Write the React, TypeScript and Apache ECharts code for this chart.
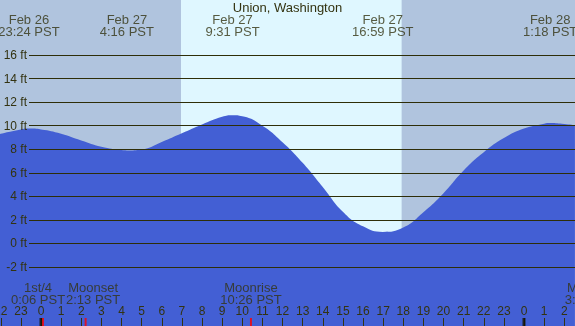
import React, { useEffect, useRef } from "react";
import * as echarts from "echarts";

// Tide curve (hours from Feb 27 00:00 PST, height in ft)
const HOURS = [-2.04, -1, -0.6, 0, 1, 2, 3, 4, 4.27, 5, 6, 7, 8, 9, 9.52, 10, 11, 12, 13, 14, 15, 16, 16.98, 18, 19, 20, 21, 22, 23, 24, 25, 25.3, 26, 26.53];
const HEIGHTS = [9.3, 9.68, 9.75, 9.68, 9.32, 8.75, 8.22, 7.93, 7.9, 7.98, 8.62, 9.35, 10.1, 10.75, 10.88, 10.8, 10.0, 8.6, 6.85, 4.8, 2.7, 1.45, 0.98, 1.35, 2.65, 4.27, 6.2, 7.75, 8.95, 9.75, 10.17, 10.23, 10.15, 10.05];

// High / low tide events
const TIDE_HOURS = [-0.6, 4.267, 9.517, 16.983, 25.3];
const TIDE_DATES = ["Feb 26", "Feb 27", "Feb 27", "Feb 27", "Feb 28"];
const TIDE_TIMES = ["23:24 PST", "4:16 PST", "9:31 PST", "16:59 PST", "1:18 PST"];

// Moon events
const MOON_HOURS = [0.1, 2.217, 10.433, 27.37];
const MOON_NAMES = ["1st/4", "Moonset", "Moonrise", "Moonset"];
const MOON_TIMES = ["0:06 PST", "2:13 PST", "10:26 PST", "3:22 PST"];

const MIDNIGHTS = [0, 24];
const SUNRISE = 6.957;
const SUNSET = 17.92;

const TITLE = "Union, Washington";

const TEXT = "#333311";
const GRIDC = "#2e2e08";
const NIGHT = "#b0c4de";
const DAY = "#dff7ff";
const WATER = "#435fd4";
const FONT = "Liberation Sans, Arial, sans-serif";

export default function App() {
  const ref = useRef<HTMLDivElement>(null);
  useEffect(() => {
    if (!ref.current) return;
    const chart = echarts.init(ref.current, undefined, { renderer: "svg" });
    const moonOffsets: Record<number, number[]> = { 0: [-5, 0], 1: [7.5, 0] };
    const option: any = {
      animation: false,
      title: {
        text: TITLE,
        left: "center",
        top: 0,
        padding: 0,
        textStyle: { fontFamily: FONT, fontSize: 13, fontWeight: "normal", color: TEXT, lineHeight: 14 },
      },
      grid: [
        { left: 0, right: 0, top: 0, bottom: 0, show: true, backgroundColor: NIGHT, borderWidth: 0, outerBoundsMode: "none", containLabel: false },
        { left: 29, right: 0, top: 55, bottom: 59, outerBoundsMode: "none", containLabel: false },
        { left: 0.75, right: 10.75, top: 318, bottom: 0, outerBoundsMode: "none", containLabel: false },
      ],
      xAxis: [
        { gridIndex: 0, type: "value", min: -2.037, max: 26.534, show: false },
        { gridIndex: 1, type: "value", min: 0, max: 1, show: false },
        {
          gridIndex: 2,
          type: "value",
          min: -2,
          max: 26,
          interval: 1,
          z: 5,
          axisLine: { show: false },
          axisTick: { show: true, inside: true, length: 8, lineStyle: { color: TEXT, width: 1 } },
          splitLine: { show: false },
          axisLabel: {
            inside: true,
            margin: 9,
            showMinLabel: true,
            showMaxLabel: true,
            color: TEXT,
            fontFamily: FONT,
            fontSize: 12,
            formatter: (v: number) => String(((Math.round(v) % 24) + 24) % 24),
          },
        },
      ],
      yAxis: [
        { gridIndex: 0, type: "value", min: -7.01, max: 20.67, show: false },
        {
          gridIndex: 1,
          type: "value",
          min: -2,
          max: 16,
          interval: 2,
          z: 5,
          axisLine: { show: false },
          axisTick: { show: false },
          axisLabel: { formatter: "{value} ft", margin: 2, color: TEXT, fontFamily: FONT, fontSize: 12 },
          splitLine: { show: true, lineStyle: { color: GRIDC, width: 1 } },
        },
        { gridIndex: 2, type: "value", min: 0, max: 1, show: false },
      ],
      series: [
        {
          type: "line",
          xAxisIndex: 0,
          yAxisIndex: 0,
          data: HOURS.map((h, i) => [h, HEIGHTS[i]]),
          symbol: "none",
          showSymbol: false,
          smooth: 0.5,
          lineStyle: { width: 0 },
          areaStyle: { color: WATER, opacity: 1, origin: "start" },
          z: 2,
          markArea: {
            silent: true,
            itemStyle: { color: DAY },
            data: [[{ xAxis: SUNRISE }, { xAxis: SUNSET }]],
          },
        },
        {
          type: "scatter",
          xAxisIndex: 0,
          yAxisIndex: 0,
          z: 6,
          symbolSize: 1,
          itemStyle: { color: "rgba(0,0,0,0)" },
          data: TIDE_HOURS.map((h) => [h, 20.67]),
          label: {
            show: true,
            position: "bottom",
            distance: 13,
            align: "center",
            color: TEXT,
            fontFamily: FONT,
            fontSize: 13,
            lineHeight: 12,
            formatter: (p: any) => TIDE_DATES[p.dataIndex] + "\n" + TIDE_TIMES[p.dataIndex],
          },
        },
        {
          type: "scatter",
          xAxisIndex: 2,
          yAxisIndex: 2,
          z: 6,
          symbol: "rect",
          symbolSize: [3, 8],
          itemStyle: { color: "#111100" },
          data: MIDNIGHTS.map((h) => [h, 0.5]),
        },
        {
          type: "scatter",
          xAxisIndex: 2,
          yAxisIndex: 2,
          z: 7,
          clip: false,
          symbol: "rect",
          symbolSize: [2, 8],
          itemStyle: { color: "#ff0000" },
          data: MOON_HOURS.map((h, i) => ({
            value: [h, 0.5],
            label: { offset: moonOffsets[i] || [0, 0] },
          })),
          label: {
            show: true,
            position: "top",
            distance: 12.5,
            align: "center",
            color: TEXT,
            fontFamily: FONT,
            fontSize: 13,
            lineHeight: 12,
            formatter: (p: any) => MOON_NAMES[p.dataIndex] + "\n" + MOON_TIMES[p.dataIndex],
          },
        },
      ],
    };
    chart.setOption(option);
    return () => chart.dispose();
  }, []);
  return <div ref={ref} style={{ position: "fixed", left: 0, top: 0, width: 575, height: 326 }} />;
}
